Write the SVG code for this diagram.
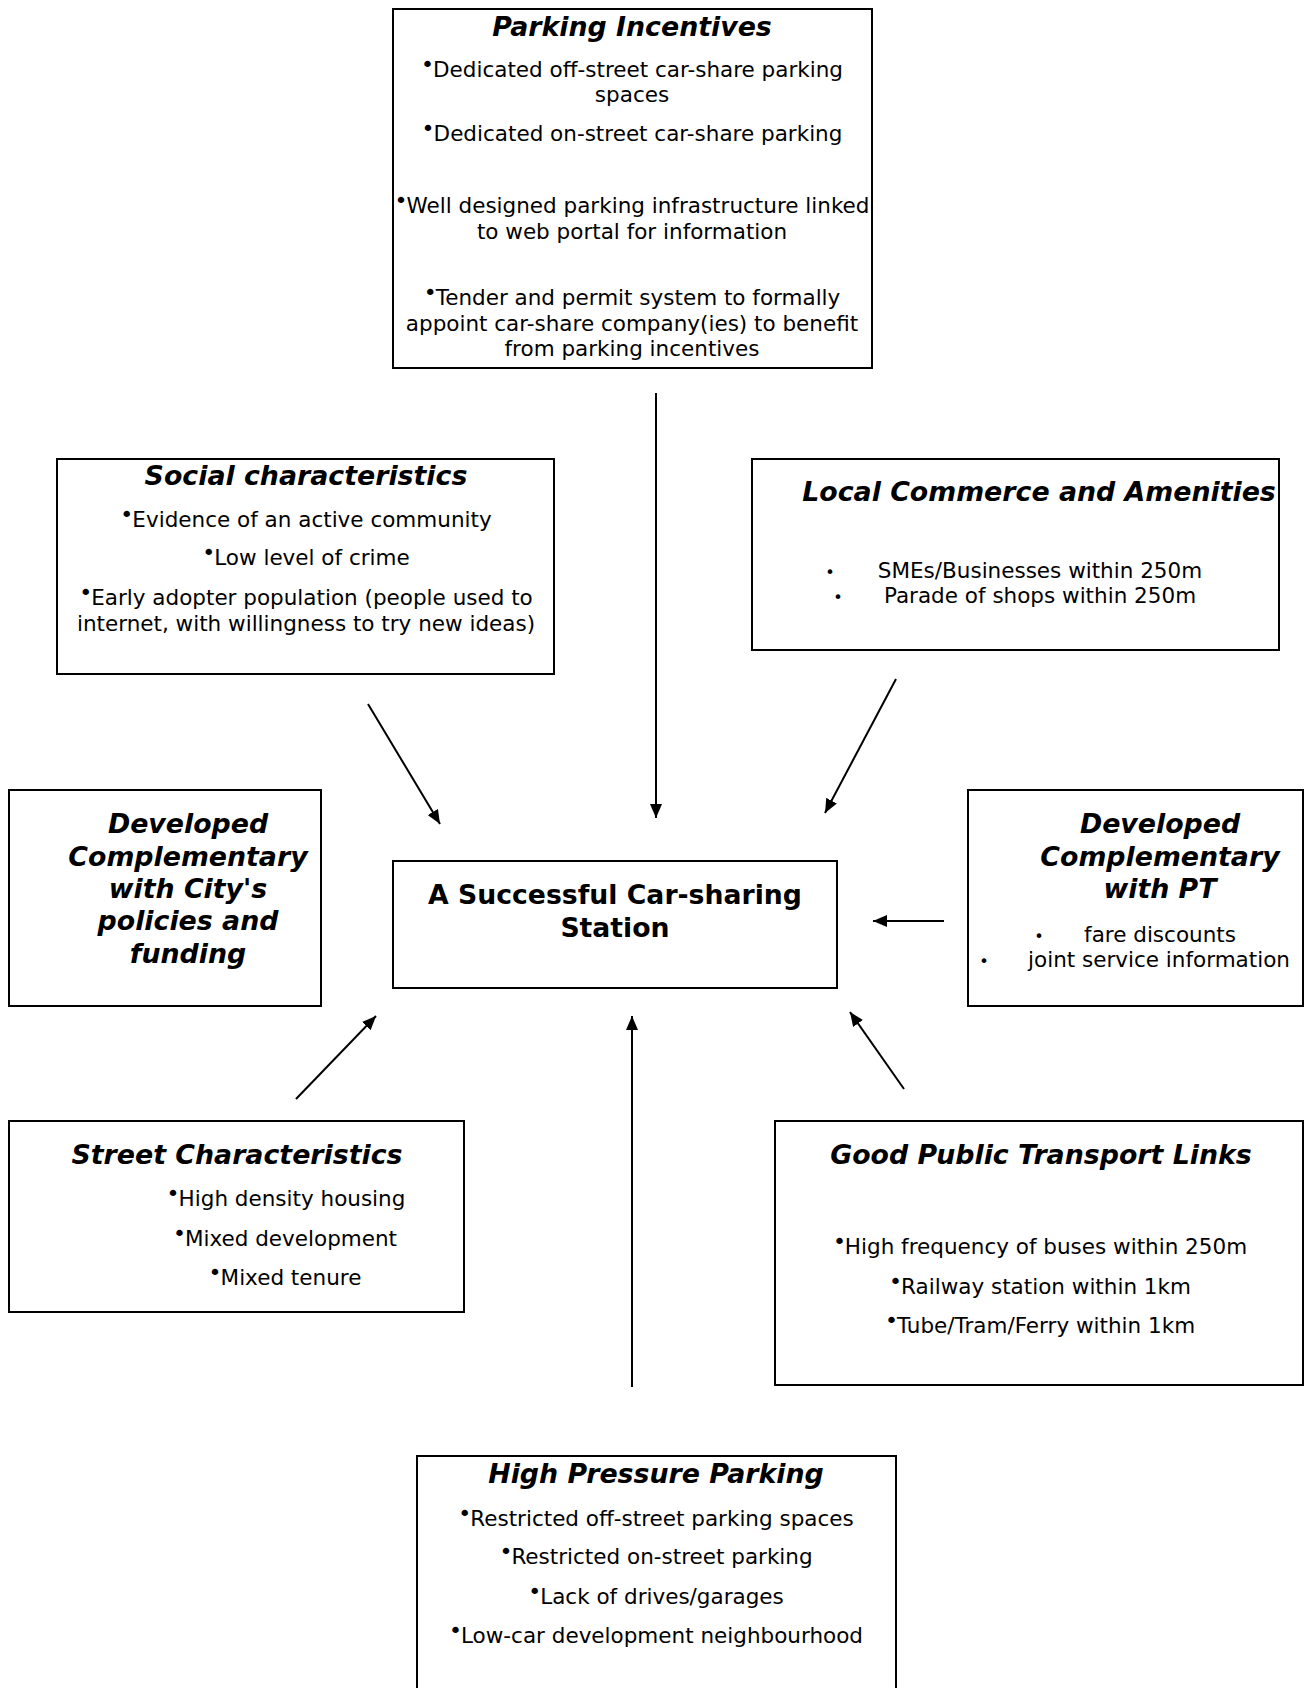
<svg xmlns="http://www.w3.org/2000/svg" width="1306" height="1688" viewBox="0 0 1306 1688">
<style>
.box{fill:#fff;stroke:#000;stroke-width:2}
text{font-family:"DejaVu Sans","Noto Sans",sans-serif;fill:#000}
.t{font-size:26.8px;font-weight:bold;font-style:italic;text-anchor:middle}
.c{font-size:26.7px;font-weight:bold;text-anchor:middle}
.p{font-size:21.5px;text-anchor:middle}
.b{font-size:22px}
.sb{font-size:16px;text-anchor:middle}
.arr{stroke:#000;stroke-width:2;fill:none;marker-end:url(#ah)}
</style>
<defs>
<marker id="ah" markerUnits="userSpaceOnUse" markerWidth="14" markerHeight="12" refX="14" refY="6" orient="auto">
<path d="M0,0 L14,6 L0,12 z" fill="#000"/>
</marker>
</defs>
<rect width="1306" height="1688" fill="#fff"/>

<g id="parking-incentives">
<rect class="box" x="393" y="9" width="479" height="359"/>
<text class="t" x="632" y="36">Parking Incentives</text>
<text class="p" x="632" y="77"><tspan class="b" dy="-5">•</tspan><tspan dx="-1" dy="5">Dedicated off-street car-share parking</tspan></text>
<text class="p" x="632" y="102">spaces</text>
<text class="p" x="632" y="141"><tspan class="b" dy="-5">•</tspan><tspan dx="-1" dy="5">Dedicated on-street car-share parking</tspan></text>
<text class="p" x="632" y="213"><tspan class="b" dy="-5">•</tspan><tspan dx="-1" dy="5">Well designed parking infrastructure linked</tspan></text>
<text class="p" x="632" y="239">to web portal for information</text>
<text class="p" x="632" y="305"><tspan class="b" dy="-5">•</tspan><tspan dx="-1" dy="5">Tender and permit system to formally</tspan></text>
<text class="p" x="632" y="331">appoint car-share company(ies) to benefit</text>
<text class="p" x="632" y="356">from parking incentives</text>
</g>

<g id="social-characteristics">
<rect class="box" x="57" y="459" width="497" height="215"/>
<text class="t" x="306" y="485">Social characteristics</text>
<text class="p" x="306" y="527"><tspan class="b" dy="-5">•</tspan><tspan dx="-1" dy="5">Evidence of an active community</tspan></text>
<text class="p" x="306" y="565"><tspan class="b" dy="-5">•</tspan><tspan dx="-1" dy="5">Low level of crime</tspan></text>
<text class="p" x="306" y="605"><tspan class="b" dy="-5">•</tspan><tspan dx="-1" dy="5">Early adopter population (people used to</tspan></text>
<text class="p" x="306" y="631">internet, with willingness to try new ideas)</text>
</g>

<g id="local-commerce">
<rect class="box" x="752" y="459" width="527" height="191"/>
<text class="t" x="1039" y="501">Local Commerce and Amenities</text>
<text class="sb" x="830" y="578">•</text>
<text class="p" x="1040" y="578">SMEs/Businesses within 250m</text>
<text class="sb" x="838" y="603">•</text>
<text class="p" x="1040" y="603">Parade of shops within 250m</text>
</g>

<g id="city-policies">
<rect class="box" x="9" y="790" width="312" height="216"/>
<text class="t" x="188" y="833">Developed</text>
<text class="t" x="188" y="866">Complementary</text>
<text class="t" x="188" y="898">with City's</text>
<text class="t" x="188" y="930">policies and</text>
<text class="t" x="188" y="963">funding</text>
</g>

<g id="center">
<rect class="box" x="393" y="861" width="444" height="127"/>
<text class="c" x="615" y="904">A Successful Car-sharing</text>
<text class="c" x="615" y="937">Station</text>
</g>

<g id="pt-complementary">
<rect class="box" x="968" y="790" width="335" height="216"/>
<text class="t" x="1160" y="833">Developed</text>
<text class="t" x="1160" y="866">Complementary</text>
<text class="t" x="1160" y="898">with PT</text>
<text class="sb" x="1039" y="942">•</text>
<text class="p" x="1160" y="942">fare discounts</text>
<text class="sb" x="984" y="967">•</text>
<text class="p" x="1159" y="967">joint service information</text>
</g>

<g id="street-characteristics">
<rect class="box" x="9" y="1121" width="455" height="191"/>
<text class="t" x="237" y="1164">Street Characteristics</text>
<text class="p" x="286" y="1206"><tspan class="b" dy="-5">•</tspan><tspan dx="-1" dy="5">High density housing</tspan></text>
<text class="p" x="285" y="1246"><tspan class="b" dy="-5">•</tspan><tspan dx="-1" dy="5">Mixed development</tspan></text>
<text class="p" x="285" y="1285"><tspan class="b" dy="-5">•</tspan><tspan dx="-1" dy="5">Mixed tenure</tspan></text>
</g>

<g id="public-transport">
<rect class="box" x="775" y="1121" width="528" height="264"/>
<text class="t" x="1041" y="1164">Good Public Transport Links</text>
<text class="p" x="1040" y="1254"><tspan class="b" dy="-5">•</tspan><tspan dx="-1" dy="5">High frequency of buses within 250m</tspan></text>
<text class="p" x="1040" y="1294"><tspan class="b" dy="-5">•</tspan><tspan dx="-1" dy="5">Railway station within 1km</tspan></text>
<text class="p" x="1040" y="1333"><tspan class="b" dy="-5">•</tspan><tspan dx="-1" dy="5">Tube/Tram/Ferry within 1km</tspan></text>
</g>

<g id="high-pressure-parking">
<rect class="box" x="417" y="1456" width="479" height="260"/>
<text class="t" x="656" y="1483">High Pressure Parking</text>
<text class="p" x="656" y="1526"><tspan class="b" dy="-5">•</tspan><tspan dx="-1" dy="5">Restricted off-street parking spaces</tspan></text>
<text class="p" x="656" y="1564"><tspan class="b" dy="-5">•</tspan><tspan dx="-1" dy="5">Restricted on-street parking</tspan></text>
<text class="p" x="656" y="1604"><tspan class="b" dy="-5">•</tspan><tspan dx="-1" dy="5">Lack of drives/garages</tspan></text>
<text class="p" x="656" y="1643"><tspan class="b" dy="-5">•</tspan><tspan dx="-1" dy="5">Low-car development neighbourhood</tspan></text>
</g>

<g id="connectors">
<line class="arr" x1="656" y1="393" x2="656" y2="818"/>
<line class="arr" x1="368" y1="704" x2="440" y2="824"/>
<line class="arr" x1="896" y1="679" x2="825" y2="813"/>
<line class="arr" x1="944" y1="921" x2="873" y2="921"/>
<line class="arr" x1="296" y1="1099" x2="376" y2="1016"/>
<line class="arr" x1="904" y1="1089" x2="850" y2="1012"/>
<line class="arr" x1="632" y1="1387" x2="632" y2="1016"/>
</g>
</svg>
